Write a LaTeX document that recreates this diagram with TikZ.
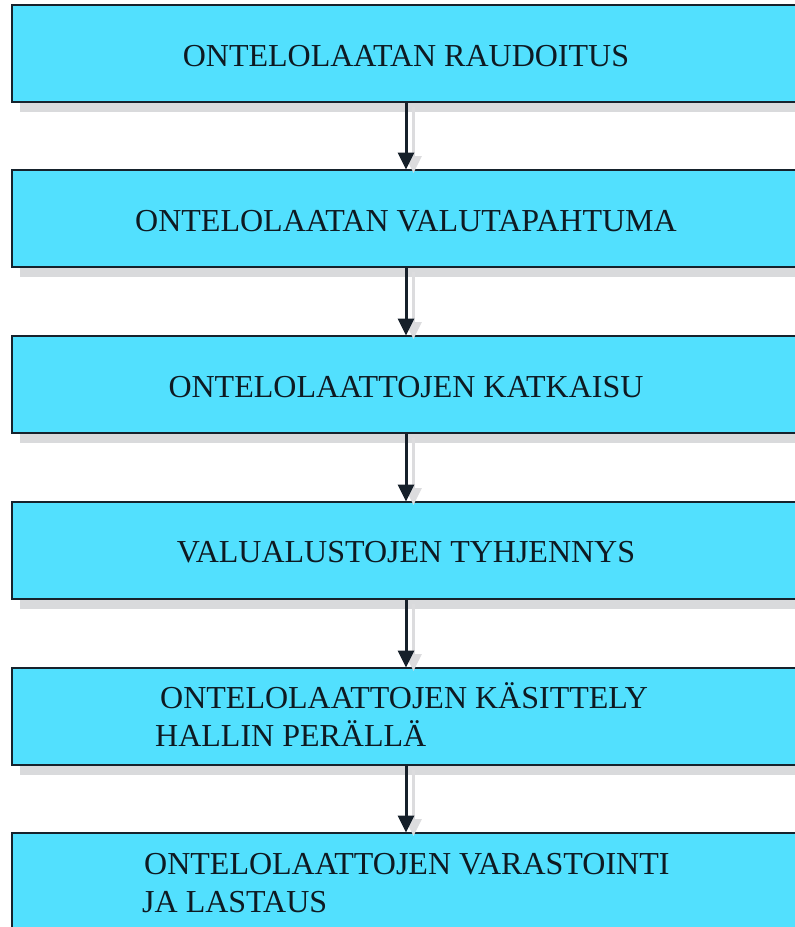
\documentclass[tikz,border=0pt]{standalone}
\usepackage{fontspec}
\setmainfont{Liberation Serif}
\usetikzlibrary{arrows.meta}
\definecolor{boxfill}{HTML}{52E0FE}
\definecolor{boxline}{HTML}{16222C}
\definecolor{txtc}{HTML}{0E1A22}
\definecolor{shadowc}{HTML}{D9DADC}
\definecolor{sharrc}{HTML}{DCDCDE}
\definecolor{arrc}{HTML}{16202A}
\tikzset{
  stepbox/.style={draw=boxline, line width=2.8pt, fill=boxfill, minimum width=788pt, minimum height=97pt, inner sep=0pt, outer sep=0pt, anchor=north west},
  boxshadow/.style={fill=shadowc, draw=none},
  lbl/.style={font=\fontsize{32}{38}\selectfont, text=txtc, inner sep=0pt},
  arr/.style={-{Triangle[length=17pt,width=16pt]}, line width=3pt, draw=arrc, shorten >=0.5pt},
  sharr/.style={-{Triangle[length=17pt,width=16pt]}, line width=3pt, draw=sharrc}
}
\begin{document}
\begin{tikzpicture}[x=1pt,y=-1pt]
\useasboundingbox (0,0) rectangle (795,927);
\clip (0,0) rectangle (795,927);
% shadows
\foreach \t in {5,170,336,502,668,833}{
  \fill[boxshadow] (20,\t+9) rectangle (808,\t+107);
}
% boxes
\node[stepbox] (b1) at (12,5) {};
\node[stepbox] (b2) at (12,170) {};
\node[stepbox] (b3) at (12,336) {};
\node[stepbox] (b4) at (12,502) {};
\node[stepbox] (b5) at (12,668) {};
\node[stepbox] (b6) at (12,833) {};
% shadow arrows
\foreach \a/\b in {b1/b2,b2/b3,b3/b4,b4/b5,b5/b6}{
  \draw[sharr] ([shift={(7.5,5)}]\a.south) -- ([shift={(7.5,3)}]\b.north);
}
% arrows
\foreach \a/\b in {b1/b2,b2/b3,b3/b4,b4/b5,b5/b6}{
  \draw[arr] (\a.south) -- (\b.north);
}
% texts
\node[lbl, anchor=base] (t1) at (406,66) {ONTELOLAATAN RAUDOITUS};
\node[lbl, anchor=base] (t2) at (406,231) {ONTELOLAATAN VALUTAPAHTUMA};
\node[lbl, anchor=base] (t3) at (406,397) {ONTELOLAATTOJEN KATKAISU};
\node[lbl, anchor=base] (t4) at (406,562) {VALUALUSTOJEN TYHJENNYS};
\node[lbl, anchor=base west] (t5a) at (160,708) {ONTELOLAATTOJEN KÄSITTELY};
\node[lbl, anchor=base west] (t5b) at (155,746) {HALLIN PERÄLLÄ};
\node[lbl, anchor=base west] (t6a) at (144,874) {ONTELOLAATTOJEN VARASTOINTI};
\node[lbl, anchor=base west] (t6b) at (142,912) {JA LASTAUS};
\end{tikzpicture}
\end{document}
